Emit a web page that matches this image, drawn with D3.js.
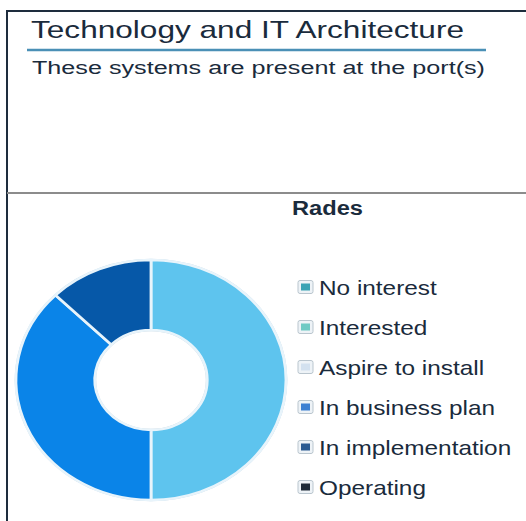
<!DOCTYPE html>
<html>
<head>
<meta charset="utf-8">
<script src="https://cdnjs.cloudflare.com/ajax/libs/d3/7.8.5/d3.min.js"></script>
<style>
  body { margin: 0; background: #fff; }
  svg { display: block; }
  text { font-family: "Liberation Sans", Arial, sans-serif; }
</style>
</head>
<body>
<svg id="chart" width="526" height="521"></svg>
<script>
var categories = ['No interest', 'Interested', 'Aspire to install', 'In business plan', 'In implementation', 'Operating'];
var values = [0, 4, 0, 3, 1, 0];
var sliceColors = ['#2f9fb3', '#5ec4ee', '#d4e2f0', '#0a84e8', '#0658a8', '#1b2b3d'];
var legendColors = ['#3aa3b4', '#6fcac4', '#d3e1ef', '#3d80d2', '#2b5b92', '#1e2a38'];

var svg = d3.select('#chart');
var sx = 1.125; // picture is a bit wider than tall

// frame
svg.append('line').attr('x1', 6).attr('y1', 11).attr('x2', 526).attr('y2', 11)
    .attr('stroke', '#1e2d3d').attr('stroke-width', 2);
svg.append('line').attr('x1', 7).attr('y1', 10).attr('x2', 7).attr('y2', 521)
    .attr('stroke', '#1e2d3d').attr('stroke-width', 2);
svg.append('line').attr('x1', 7).attr('y1', 193).attr('x2', 526).attr('y2', 193)
    .attr('stroke', '#8c8c8c').attr('stroke-width', 2);

function label(x, y, txt, size, weight, len) {
    var t = svg.append('text')
        .attr('transform', 'translate(' + x + ',' + y + ') scale(' + sx + ',1)')
        .attr('font-size', size)
        .attr('font-weight', weight || 'normal')
        .attr('fill', '#1a2b3c')
        .text(txt);
    if (len) t.attr('textLength', len / sx).attr('lengthAdjust', 'spacingAndGlyphs');
    return t;
}

label(31, 38, 'Technology and IT Architecture', 24, 'normal', 433);
svg.append('line').attr('x1', 27).attr('y1', 50).attr('x2', 486).attr('y2', 50)
    .attr('stroke', '#4a90b6').attr('stroke-width', 2.5);
label(32, 74, 'These systems are present at the port(s)', 19, 'normal', 453);
label(292, 215, 'Rades', 21, 'bold', 71);

// donut
var cx = 151, cy = 380, r = 120;
var data = categories.map(function(c, i) { return {name: c, value: values[i], color: sliceColors[i]}; });
var pie = d3.pie().sort(null).value(function(d) { return d.value; });
var arc = d3.arc().innerRadius(50).outerRadius(r);

var g = svg.append('g').attr('transform', 'translate(' + cx + ',' + cy + ') scale(' + sx + ',1)');
g.append('circle').attr('r', r + 0.5).attr('fill', 'none').attr('stroke', '#c8dbe8').attr('stroke-width', 1.5);
g.append('circle').attr('r', 49.5).attr('fill', 'none').attr('stroke', '#c8d4dc').attr('stroke-width', 1.5);
g.selectAll('path').data(pie(data).filter(function(d) { return d.value > 0; }))
    .enter().append('path')
    .attr('d', arc)
    .attr('fill', function(d) { return d.data.color; })
    .attr('stroke', '#e8f4fb')
    .attr('stroke-width', 2.5);

// legend
var legend = svg.append('g');
var rows = legend.selectAll('g').data(categories).enter().append('g')
    .attr('transform', function(d, i) { return 'translate(298,' + (287 + i * 40) + ')'; });
rows.append('rect').attr('x', 0).attr('y', -6.5).attr('width', 15).attr('height', 13).attr('rx', 2)
    .attr('fill', '#eef3f7').attr('stroke', '#b9c5ce').attr('stroke-width', 1);
rows.append('rect').attr('x', 3).attr('y', -3.5).attr('width', 9).attr('height', 7)
    .attr('fill', function(d, i) { return legendColors[i]; });
rows.append('text')
    .attr('transform', 'translate(21,8) scale(1.16,1)')
    .attr('font-size', 21)
    .attr('fill', '#1a2b3c')
    .text(function(d) { return d; });
</script>
</body>
</html>
